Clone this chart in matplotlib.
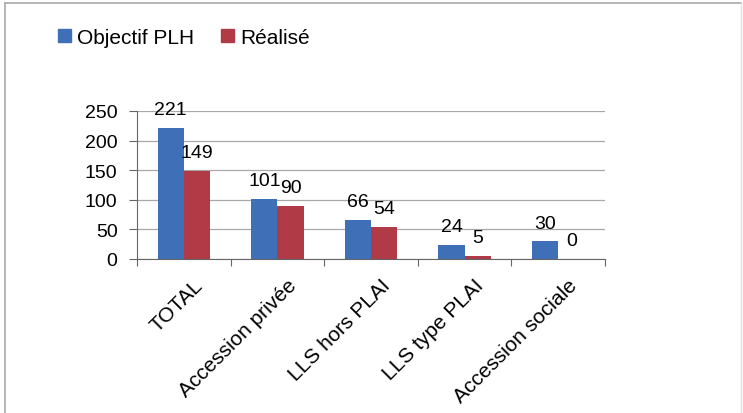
import matplotlib.pyplot as plt
import numpy as np
from matplotlib.lines import Line2D
from matplotlib.patches import Patch

categories = ["TOTAL", "Accession privée", "LLS hors PLAI", "LLS type PLAI", "Accession sociale"]
objectif = [221, 101, 66, 24, 30]
realise = [149, 90, 54, 5, 0]
series_names = ["Objectif PLH", "Réalisé"]

BLUE = "#3f6fb6"
RED = "#b03a46"

plt.rcParams["font.family"] = ["Liberation Sans", "DejaVu Sans"]

fig = plt.figure(figsize=(7.43, 4.14), dpi=100)
ax = fig.add_axes([0.1844, 0.372, 0.63, 0.3575])

x = np.arange(len(categories))
w = 0.28
b1 = ax.bar(x - w / 2, objectif, width=w, color=BLUE)
b2 = ax.bar(x + w / 2, realise, width=w, color=RED)

# data labels above bars
for bars, vals in [(b1, objectif), (b2, realise)]:
    for rect, v in zip(bars, vals):
        ax.annotate(
            f"{v}",
            (rect.get_x() + rect.get_width() / 2, v),
            xytext=(0, 7),
            textcoords="offset points",
            ha="center",
            va="bottom",
            fontsize=14,
        )

ax.set_xlim(-0.5, len(categories) - 0.5)
ax.set_ylim(0, 250)
ax.set_yticks(range(0, 251, 50))
ax.tick_params(axis="y", labelsize=14, length=6, color="#666666", pad=8)

# ticks between categories, labels at centers
ax.set_xticks(np.arange(-0.5, len(categories), 1))
ax.set_xticklabels([])
ax.set_xticks(x + 0.1, minor=True)
ax.set_xticklabels(categories, minor=True, rotation=45, ha="right",
                   rotation_mode="anchor", fontsize=15)
ax.tick_params(axis="x", which="major", length=5, color="#666666")
ax.tick_params(axis="x", which="minor", length=0, pad=12)

ax.yaxis.grid(True, color="#a8a8a8", linewidth=0.9)
ax.set_axisbelow(True)
for s in ["top", "right"]:
    ax.spines[s].set_visible(False)
ax.spines["left"].set_color("#666666")
ax.spines["bottom"].set_color("#666666")

handles = [Patch(color=BLUE), Patch(color=RED)]
fig.legend(handles, series_names, loc="upper left", bbox_to_anchor=(0.053, 0.975),
           ncol=2, frameon=False, fontsize=15, handlelength=0.6, handleheight=0.6,
           handletextpad=0.3, columnspacing=1.3)

# outer frame of the chart (top/left visible, right faint)
fig.add_artist(Line2D([0.007, 0.997], [0.99, 0.99], transform=fig.transFigure,
                      color="#b0b0b0", linewidth=1.3))
fig.add_artist(Line2D([0.007, 0.007], [0.0, 0.99], transform=fig.transFigure,
                      color="#b0b0b0", linewidth=1.3))
fig.add_artist(Line2D([0.997, 0.997], [0.0, 0.99], transform=fig.transFigure,
                      color="#e2e2e2", linewidth=1.0))

fig.savefig("out.png", dpi=100)
